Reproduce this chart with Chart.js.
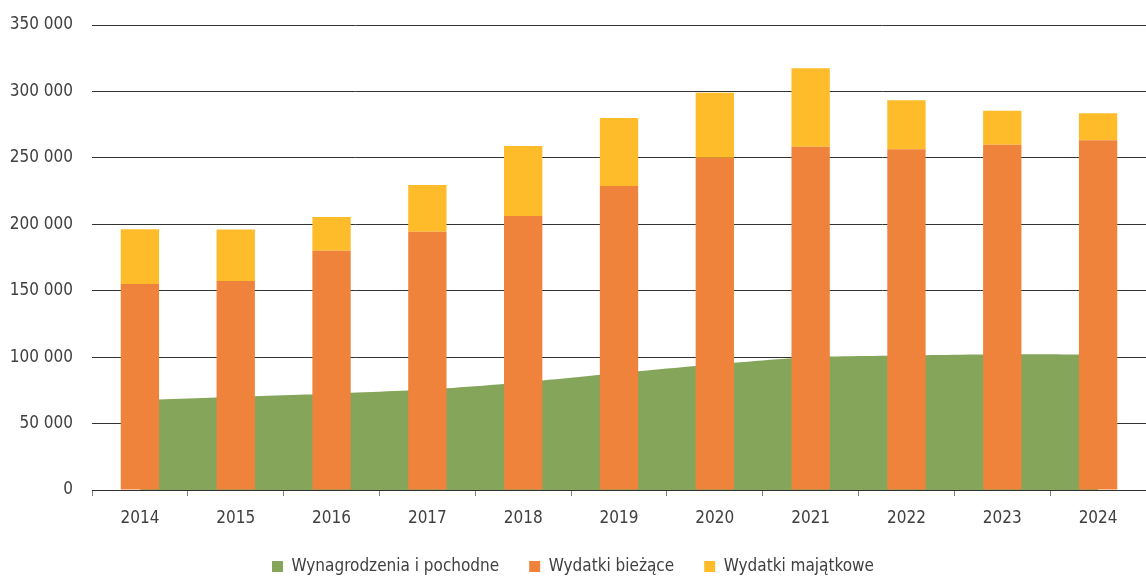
<!DOCTYPE html>
<html>
<head>
<meta charset="utf-8">
<script src="https://cdn.jsdelivr.net/npm/chart.js@4.4.1/dist/chart.umd.min.js"></script>
<style>
  html, body { margin: 0; padding: 0; background: #fff; }
  #wrap { width: 1146px; height: 576px; }
</style>
</head>
<body>
<div id="wrap"><canvas id="myChart"></canvas></div>
<script>
const years = ['2014', '2015', '2016', '2017', '2018', '2019', '2020', '2021', '2022', '2023', '2024'];
const wagesValues = [67700, 70200, 72500, 75600, 81000, 88000, 94600, 100100, 101300, 102200, 102000];
const currentValues = [155000, 157300, 180000, 194400, 206200, 228800, 250100, 258400, 256400, 259900, 263200];
const capitalValues = [41200, 38700, 25500, 35200, 52700, 51200, 48900, 59000, 36900, 25600, 20300];
const yTicks = [0, 50000, 100000, 150000, 200000, 250000, 300000, 350000];

const FONT = "'Liberation Sans Narrow', 'Arial Narrow', 'DejaVu Sans Condensed', sans-serif";

function fmt(v) {
  return String(v).replace(/\B(?=(\d{3})+(?!\d))/g, ' ');
}

// legend box: fixed height so the plot ends where the original does
const legendHeight = {
  id: 'legendHeight',
  beforeLayout(chart) {
    const lg = chart.legend;
    if (lg && !lg._patched) {
      const fit = lg.fit;
      lg.fit = function () { fit.call(this); this.height = 48; };
      lg._patched = true;
    }
  }
};

const ctx = document.getElementById('myChart');
new Chart(ctx, {
  type: 'bar',
  data: {
    labels: years,
    datasets: [{
      type: 'line',
      label: 'Wynagrodzenia i pochodne',
      data: wagesValues,
      stack: 'wages',
      fill: 'origin',
      backgroundColor: '#84a55a',
      borderColor: '#84a55a',
      borderWidth: 0,
      pointRadius: 0,
      tension: 0.15,
      order: 2
    }, {
      label: 'Wydatki bieżące',
      data: currentValues,
      stack: 'exp',
      backgroundColor: '#f0833c',
      order: 1
    }, {
      label: 'Wydatki majątkowe',
      data: capitalValues,
      stack: 'exp',
      backgroundColor: '#febc2a',
      order: 1
    }]
  },
  options: {
    responsive: true,
    maintainAspectRatio: false,
    animation: false,
    barPercentage: 0.4,
    categoryPercentage: 1.0,
    layout: {
      padding: { top: 25, right: 0, bottom: 0, left: 0 }
    },
    scales: {
      x: {
        stacked: true,
        afterFit: function (scale) {
          scale.height = 38;
        },
        grid: {
          display: true,
          drawOnChartArea: false,
          drawTicks: true,
          tickLength: 6,
          color: '#808080',
          offset: true
        },
        border: { display: true, color: '#303030', width: 1 },
        ticks: {
          color: '#404040',
          padding: 12,
          font: { family: FONT, size: 17 }
        }
      },
      y: {
        stacked: true,
        min: 0,
        max: 350000,
        afterBuildTicks: function (scale) {
          scale.ticks = yTicks.map(v => ({ value: v }));
        },
        afterFit: function (scale) {
          scale.width = 92;
          scale.paddingTop = 0;
          scale.paddingBottom = 0;
        },
        grid: {
          color: '#333333',
          lineWidth: 1,
          drawTicks: false
        },
        border: { display: false },
        ticks: {
          color: '#404040',
          padding: 19,
          font: { family: FONT, size: 17 },
          callback: function (v) { return fmt(v); }
        }
      }
    },
    plugins: {
      legend: {
        position: 'bottom',
        labels: {
          boxWidth: 11,
          boxHeight: 11,
          padding: 30,
          color: '#404040',
          font: { family: FONT, size: 17 },
          sort: function (a, b) { return a.datasetIndex - b.datasetIndex; }
        }
      },
      tooltip: { enabled: false }
    }
  },
  plugins: [legendHeight]
});
</script>
</body>
</html>
